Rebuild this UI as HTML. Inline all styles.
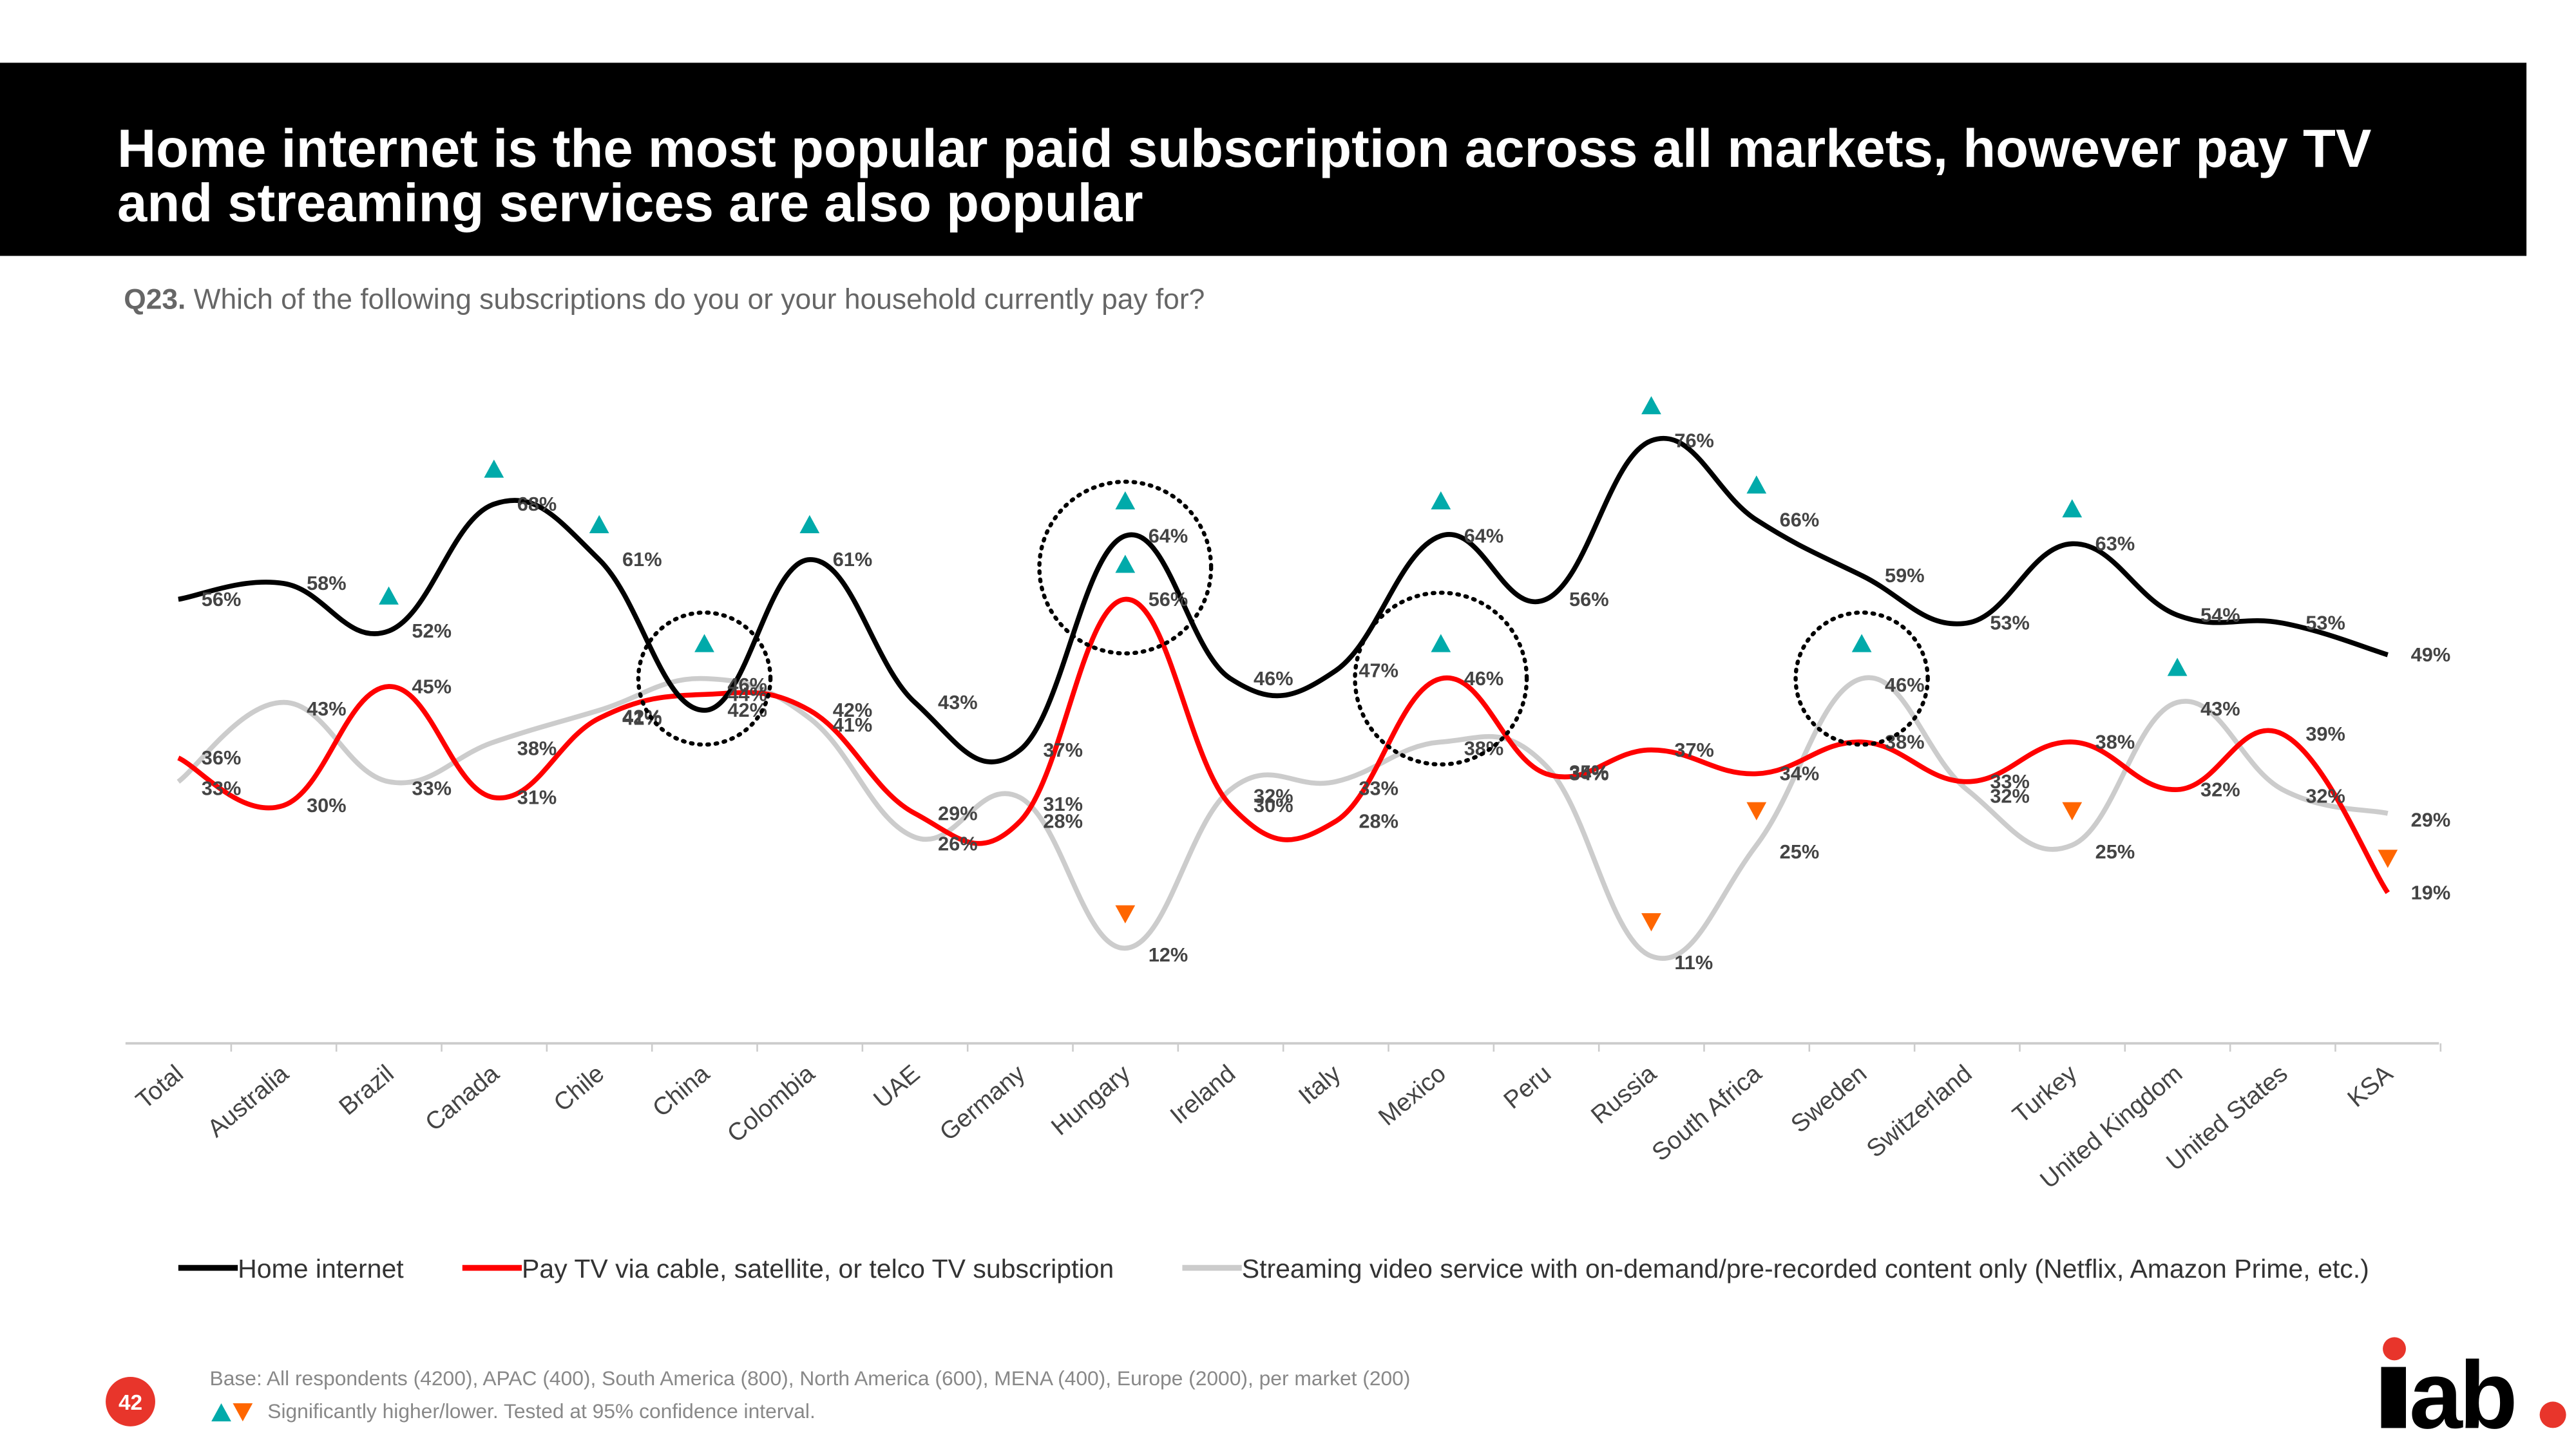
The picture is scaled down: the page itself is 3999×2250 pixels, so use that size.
<!DOCTYPE html>
<html><head><meta charset="utf-8">
<style>html,body{margin:0;padding:0;background:#fff;width:3999px;height:2250px;overflow:hidden}
svg{display:block;font-family:"Liberation Sans",Arial,sans-serif}</style></head>
<body>
<svg id="svg" width="3999" height="2250" viewBox="0 0 1560 877.7">
<rect x="0" y="38" width="1530" height="117" fill="#000"/>
<text x="71" y="101" fill="#fff" font-size="32.5" font-weight="bold">Home internet is the most popular paid subscription across all markets, however pay TV</text>
<text x="71" y="134" fill="#fff" font-size="32.5" font-weight="bold">and streaming services are also popular</text>
<text x="75" y="187" fill="#666" font-size="17.3"><tspan font-weight="bold">Q23.</tspan> Which of the following subscriptions do you or your household currently pay for?</text>
<line x1="76" y1="632" x2="1477" y2="632" stroke="#ccc" stroke-width="1.5"/>
<g id="plot"></g>
<g>
<g><line x1="108" y1="768" x2="144" y2="768" stroke="#000" stroke-width="3.5"/><text x="144" y="774" font-size="16" fill="#333">Home internet</text></g>
<g><line x1="280" y1="768" x2="316" y2="768" stroke="#f00" stroke-width="3.5"/><text x="316" y="774" font-size="16" fill="#333">Pay TV via cable, satellite, or telco TV subscription</text></g>
<g><line x1="716" y1="768" x2="752" y2="768" stroke="#ccc" stroke-width="3.5"/><text x="752" y="774" font-size="16" fill="#333">Streaming video service with on-demand/pre-recorded content only (Netflix, Amazon Prime, etc.)</text></g>
</g>
<circle cx="79" cy="849" r="15" fill="#e8352b"/>
<text x="79" y="854" font-size="13" fill="#fff" font-weight="bold" text-anchor="middle">42</text>
<text x="127" y="839" font-size="12.4" fill="#888">Base: All respondents (4200), APAC (400), South America (800), North America (600), MENA (400), Europe (2000), per market (200)</text>
<polygon points="128,861 134,850 140,861" fill="#0aa"/>
<polygon points="141,850 153,850 147,861" fill="#f60"/>
<text x="162" y="859" font-size="12.4" fill="#888">Significantly higher/lower. Tested at 95% confidence interval.</text>
<g>
<circle cx="1450" cy="817" r="7" fill="#e8352b"/>
<rect x="1442" y="828" width="15" height="37" fill="#000"/>
<text x="1459" y="865" font-size="58" font-weight="bold" fill="#000" letter-spacing="-2">ab</text>
<circle cx="1546" cy="857" r="8" fill="#e8352b"/>
</g>
</svg>
<script>
const categories=["Total","Australia","Brazil","Canada","Chile","China","Colombia","UAE","Germany","Hungary","Ireland","Italy","Mexico","Peru","Russia","South Africa","Sweden","Switzerland","Turkey","United Kingdom","United States","KSA"];
const homeInternet=[56,58,52,68,61,42,61,43,37,64,46,47,64,56,76,66,59,53,63,54,53,49];
const payTV=[36,30,45,31,41,44,42,29,28,56,30,28,46,34,37,34,38,33,38,32,39,19];
const streaming=[33,43,33,38,42,46,41,26,31,12,32,33,38,35,11,25,46,32,25,43,32,29];
const sigUp=[[0,2],[0,3],[0,4],[2,5],[0,6],[0,9],[1,9],[0,12],[1,12],[0,14],[0,15],[2,16],[0,18],[2,19]];
const sigDown=[[2,9],[2,14],[2,15],[2,18],[1,21]];
const circled=[["China",2,2,40],["Hungary",0,1,52],["Mexico",1,1,52],["Sweden",2,2,40]];
const NS="http://www.w3.org/2000/svg";
const plot=document.getElementById('plot');
function xS(i){return 108+i*(1446-108)/(categories.length-1);}
function yS(v){return 632-v*(632-363)/56;}
function mk(t,a){const e=document.createElementNS(NS,t);for(const k in a)e.setAttribute(k,a[k]);plot.appendChild(e);return e;}
function pathD(vals){const p=vals.map((v,i)=>[xS(i),yS(v)]);let d="M"+p[0][0]+","+p[0][1];
for(let i=0;i<p.length-1;i++){const p0=p[i-1]||p[i],p1=p[i],p2=p[i+1],p3=p[i+2]||p2;const t=0.2;
d+=" C"+(p1[0]+(p2[0]-p0[0])*t)+","+(p1[1]+(p2[1]-p0[1])*t)+" "+(p2[0]-(p3[0]-p1[0])*t)+","+(p2[1]-(p3[1]-p1[1])*t)+" "+p2[0]+","+p2[1];}return d;}
categories.forEach((c,i)=>{
 const tk=mk('line',{x1:xS(i)+32,y1:632,x2:xS(i)+32,y2:637,stroke:'#ccc'});
 
 
 const t=mk('text',{x:0,y:0,'font-size':15,fill:'#444','text-anchor':'end',transform:`translate(${xS(i)+4},652) rotate(-40)`});
 t.textContent=c;
 
 
});
const series=[[streaming,'#ccc','streaming',8],[payTV,'#f00','pay-tv',4],[homeInternet,'#000','home-internet',4]];
series.forEach(([vals,col,nm,dy])=>{
 const p=mk('path',{d:pathD(vals),fill:'none',stroke:col,'stroke-width':3});
 
 
});
series.forEach(([vals,col,nm,dy])=>{
 vals.forEach((v,i)=>{
  const t=mk('text',{x:xS(i)+14,y:yS(v)+dy,'font-size':12,'font-weight':'bold',fill:'#444'});
  t.textContent=v+'%';
  
  
 });
});
const allS=[homeInternet,payTV,streaming];
sigUp.forEach(([s,i])=>{const x=xS(i),y=yS(allS[s][i])-16;
 const t=mk('polygon',{points:`${x-6},${y} ${x},${y-11} ${x+6},${y}`,fill:'#0aa'});
 
 });
sigDown.forEach(([s,i])=>{const x=xS(i),y=yS(allS[s][i])-26;
 const t=mk('polygon',{points:`${x-6},${y} ${x+6},${y} ${x},${y+11}`,fill:'#f60'});
 
 });
circled.forEach(([c,s1,s2,r])=>{const i=categories.indexOf(c);
 const cy=(yS(allS[s1][i])+yS(allS[s2][i]))/2;
 const e=mk('circle',{cx:xS(i),cy:cy,r:r,fill:'none',stroke:'#000','stroke-width':2.5,'stroke-dasharray':'1 4','stroke-linecap':'round'});
 
 });
</script>
</body></html>
